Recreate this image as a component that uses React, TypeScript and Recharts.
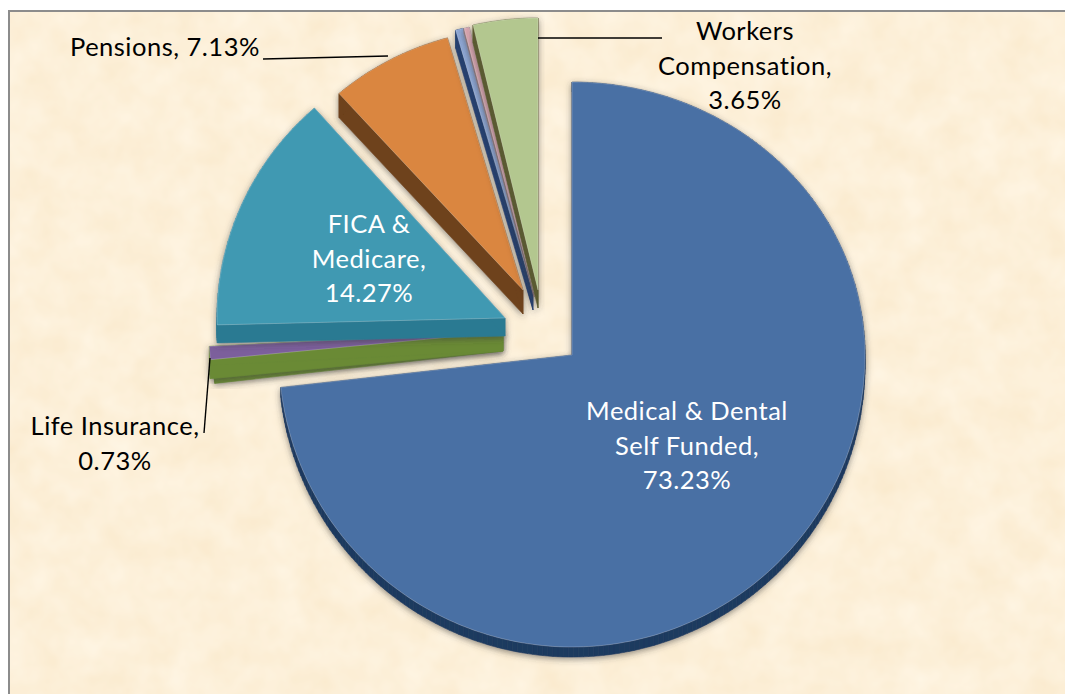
import { PieChart, Pie, Cell } from "recharts"

const sliceNames = [
  "Medical & Dental Self Funded",
  "Disability",
  "Life Insurance",
  "FICA & Medicare",
  "Pensions",
  "Unemployment",
  "Other",
  "Workers Compensation",
]
const sliceValues = [73.23, 0.26, 0.73, 14.27, 7.13, 0.43, 0.3, 3.65]
const sliceColors = ["#4a70a4", "#a9bd84", "#7b5e9c", "#4199b2", "#da863f", "#8fa8d6", "#d9a6b0", "#b3c78f"]
const sideColors = ["#1f3a5f", "#6a8a36", "#6a8a36", "#2c7a92", "#6e431c", "#26406e", "#8a7478", "#5a5a30"]

// where each exploded wedge ended up in the picture, and its squashed radii
const wedges = [
  { x: 572, y: 355, rx: 293, ryUp: 273, ryDown: 292, depth: 10 },
  { x: 503, y: 332, rx: 290, ryUp: 273, ryDown: 292, depth: 19 },
  { x: 503, y: 332, rx: 294, ryUp: 273, ryDown: 292, depth: 19 },
  { x: 505, y: 318, rx: 288, ryUp: 280, ryDown: 140, depth: 18 },
  { x: 523, y: 290, rx: 278, ryUp: 262, ryDown: 262, depth: 24 },
  { x: 533, y: 292, rx: 285, ryUp: 272, ryDown: 272, depth: 18 },
  { x: 534, y: 292, rx: 285, ryUp: 272, ryDown: 272, depth: 5 },
  { x: 538, y: 290, rx: 286, ryUp: 272, ryDown: 272, depth: 18 },
]

const labelLines = [
  { lines: ["Medical & Dental", "Self Funded,", "73.23%"], x: 687, y: 420, color: "#ffffff", anchor: "middle" },
  null,
  { lines: ["Life Insurance,", "0.73%"], x: 115, y: 435, color: "#000000", anchor: "middle", leader: [210, 358, 204, 433] },
  { lines: ["FICA &", "Medicare,", "14.27%"], x: 369, y: 233, color: "#ffffff", anchor: "middle" },
  { lines: ["Pensions, 7.13%"], x: 70, y: 56, color: "#000000", anchor: "start", leader: [263, 59, 388, 56] },
  null,
  null,
  { lines: ["Workers", "Compensation,", "3.65%"], x: 745, y: 40, color: "#000000", anchor: "middle", leader: [538, 38, 662, 38] },
]

function wedgePoints(w: (typeof wedges)[number], startAngle: number, endAngle: number) {
  const from = 90 - startAngle
  const to = 90 - endAngle
  const steps = Math.max(4, Math.ceil(Math.abs(to - from)))
  const pts: [number, number][] = [[w.x, w.y]]
  for (let i = 0; i <= steps; i++) {
    const t = ((from + ((to - from) * i) / steps) * Math.PI) / 180
    const c = Math.cos(t)
    pts.push([w.x + w.rx * Math.sin(t), w.y - c * (c >= 0 ? w.ryUp : w.ryDown)])
  }
  return pts
}

function toPath(pts: [number, number][]) {
  return pts.map((p, i) => `${i ? "L" : "M"}${p[0].toFixed(1)},${p[1].toFixed(1)}`).join("") + "Z"
}

function TiltedWedge(props: any) {
  const index = sliceValues.findIndex((v) => v === props.payload?.value || v === props.value)
  const w = wedges[index]
  const pts = wedgePoints(w, props.startAngle, props.endAngle)
  // one quad per edge, drawn apart so overlapping quads don't cancel out
  const side = pts.map((p, i) => {
    const q = pts[(i + 1) % pts.length]
    return toPath([p, q, [q[0], q[1] + w.depth], [p[0], p[1] + w.depth]])
  })
  return (
    <g filter="url(#softShadow)">
      {side.map((d, i) => (
        <path key={i} d={d} fill={sideColors[index]} stroke={sideColors[index]} strokeWidth={0.6} />
      ))}
      <path d={toPath(pts)} fill={sliceColors[index]} stroke="#ffffff" strokeOpacity={0.22} strokeWidth={1} />
    </g>
  )
}

function renderLabel(props: any) {
  const item = labelLines[props.index]
  if (!item) return null
  return (
    <g>
      {item.leader && (
        <line x1={item.leader[0]} y1={item.leader[1]} x2={item.leader[2]} y2={item.leader[3]} stroke="#000" strokeWidth={1.4} />
      )}
      <text
        x={item.x}
        y={item.y}
        fill={item.color}
        textAnchor={item.anchor as any}
        fontFamily="Lato"
        fontSize={25.5}
        letterSpacing={0.5}
      >
        {item.lines.map((line, i) => (
          <tspan key={line} x={item.x} dy={i ? 34.5 : 0}>
            {line}
          </tspan>
        ))}
      </text>
    </g>
  )
}

export default function App() {
  const data = sliceNames.map((name, i) => ({ name, value: sliceValues[i] }))
  return (
    <div style={{ position: "absolute", left: 0, top: 0, width: 1065, height: 694, background: "#fff", overflow: "hidden" }}>
      <svg width={1065} height={694} style={{ position: "absolute", left: 0, top: 0 }}>
        <defs>
          <filter id="parchment" x="0" y="0" width="100%" height="100%" colorInterpolationFilters="sRGB">
            <feTurbulence type="fractalNoise" baseFrequency="0.03" numOctaves={3} seed={7} />
            <feColorMatrix
              type="matrix"
              values="0.02 0 0 0 0.98  0.05 0 0 0 0.915  0.1 0 0 0 0.8  0 0 0 0 1"
            />
          </filter>
        </defs>
        <rect x={8} y={10} width={1057} height={684} filter="url(#parchment)" />
        <path d="M9,694V11H1065" fill="none" stroke="#8c8c8c" strokeWidth={2} />
      </svg>
      <div style={{ position: "absolute", left: 0, top: 0 }}>
        <PieChart width={1065} height={694} margin={{ top: 0, right: 0, bottom: 0, left: 0 }}>
          <defs>
            <filter id="softShadow" x="-10%" y="-10%" width="120%" height="120%">
              <feDropShadow dx={0} dy={2} stdDeviation={3} floodColor="#3a3a3a" floodOpacity={0.55} />
            </filter>
          </defs>
          <Pie
            data={data}
            dataKey="value"
            nameKey="name"
            cx={572}
            cy={355}
            outerRadius={294}
            startAngle={90}
            endAngle={-270}
            stroke="none"
            isAnimationActive={false}
            shape={TiltedWedge}
            label={renderLabel}
            labelLine={false}
          >
            {data.map((d, i) => (
              <Cell key={d.name} fill={sliceColors[i]} />
            ))}
          </Pie>
        </PieChart>
      </div>
    </div>
  )
}
